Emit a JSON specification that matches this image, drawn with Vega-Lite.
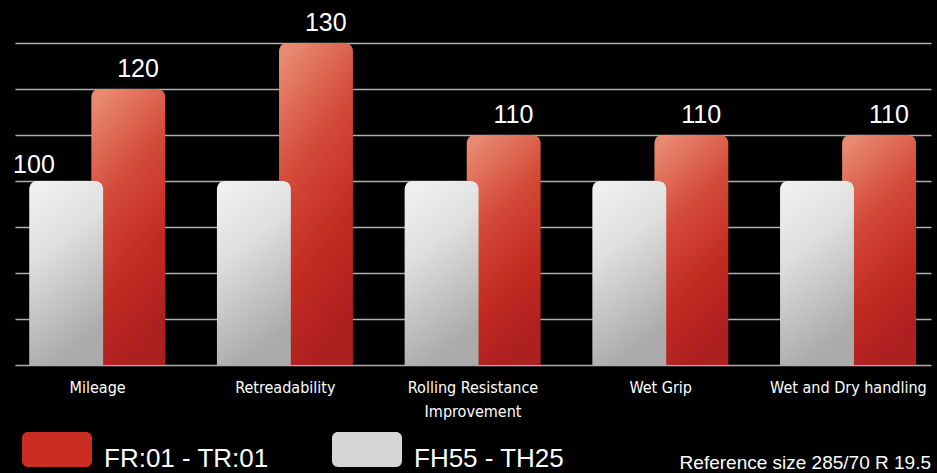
{
  "$schema": "https://vega.github.io/schema/vega-lite/v6.json",
  "width": 916,
  "height": 365,
  "autosize": "none",
  "padding": {"left": 15, "top": 0, "right": 6, "bottom": 108},
  "background": "#000000",
  "config": {"view": {"stroke": null}, "font": "Liberation Sans"},
  "title": {
    "text": "Reference size 285/70 R 19.5",
    "orient": "bottom",
    "anchor": "end",
    "fontSize": 19,
    "fontWeight": "normal",
    "color": "#ffffff",
    "font": "Liberation Sans",
    "offset": -18
  },
  "data": {
    "values": [
      {"category": "Mileage", "tyre": "FR:01 - TR:01", "value": 120},
      {"category": "Retreadability", "tyre": "FR:01 - TR:01", "value": 130},
      {"category": "Rolling Resistance Improvement", "tyre": "FR:01 - TR:01", "value": 110},
      {"category": "Wet Grip", "tyre": "FR:01 - TR:01", "value": 110},
      {"category": "Wet and Dry handling", "tyre": "FR:01 - TR:01", "value": 110},
      {"category": "Mileage", "tyre": "FH55 - TH25", "value": 100},
      {"category": "Retreadability", "tyre": "FH55 - TH25", "value": 100},
      {"category": "Rolling Resistance Improvement", "tyre": "FH55 - TH25", "value": 100},
      {"category": "Wet Grip", "tyre": "FH55 - TH25", "value": 100},
      {"category": "Wet and Dry handling", "tyre": "FH55 - TH25", "value": 100}
    ]
  },
  "encoding": {
    "x": {
      "field": "category",
      "type": "nominal",
      "sort": ["Mileage", "Retreadability", "Rolling Resistance Improvement", "Wet Grip", "Wet and Dry handling"],
      "scale": {"paddingInner": 0.12, "paddingOuter": 0},
      "axis": {
        "title": null,
        "labelAngle": 0,
        "domain": false,
        "ticks": false,
        "labelColor": "#ffffff",
        "labelFont": "'DejaVu Sans Condensed', 'Liberation Sans', sans-serif",
        "labelFontSize": 16,
        "labelPadding": 14,
        "labelLineHeight": 24,
        "labelLimit": 300,
        "labelExpr": "datum.label == 'Rolling Resistance Improvement' ? ['Rolling Resistance', 'Improvement'] : datum.label"
      }
    },
    "xOffset": {
      "field": "tyre",
      "type": "nominal",
      "sort": ["FH55 - TH25", "FR:01 - TR:01"],
      "scale": {"paddingInner": 0, "paddingOuter": 0.33, "align": 0.73}
    },
    "y": {
      "field": "value",
      "type": "quantitative",
      "scale": {"domain": [60, 139.35], "zero": false, "nice": false},
      "axis": {
        "title": null,
        "grid": true,
        "values": [60, 70, 80, 90, 100, 110, 120, 130],
        "labels": false,
        "ticks": false,
        "domain": false,
        "gridColor": "#b0b0b0",
        "gridWidth": 1.5,
        "gridOpacity": 1
      }
    }
  },
  "layer": [
    {
      "mark": {
        "type": "bar",
        "opacity": 0,
        "width": {"band": 1.19}
      },
      "encoding": {
        "y2": {"datum": 60},
        "color": {
          "field": "tyre",
          "type": "nominal",
          "scale": {
            "domain": ["FR:01 - TR:01", "FH55 - TH25"],
            "range": ["#cc2d22", "#d6d6d6"]
          },
          "legend": {
            "orient": "none",
            "legendX": 7,
            "legendY": 424,
            "direction": "horizontal",
            "title": null,
            "symbolType": "M-0.83,-0.77 H0.83 A0.17,0.17 0 0 1 1,-0.6 V0.06 A0.17,0.17 0 0 1 0.83,0.23 H-0.83 A0.17,0.17 0 0 1 -1,0.06 V-0.6 A0.17,0.17 0 0 1 -0.83,-0.77 Z",
            "symbolSize": 4900,
            "symbolStrokeWidth": 0,
            "symbolOpacity": 1,
            "labelFontSize": 26,
            "labelColor": "#ffffff",
            "labelFont": "Liberation Sans",
            "labelOffset": 12,
            "labelLimit": 400,
            "columnPadding": 63,
            "padding": 0
          }
        }
      }
    },
    {
      "mark": {
        "type": "bar",
        "cornerRadiusTopLeft": 8,
        "cornerRadiusTopRight": 8,
        "width": {"band": 1.19}
      },
      "encoding": {
        "y2": {"datum": 60},
        "color": {
          "condition": {
            "test": "datum.tyre == 'FR:01 - TR:01'",
            "value": {"gradient": "linear", "x1": 0.2, "y1": 0, "x2": 0.5, "y2": 1, "stops": [
              {"offset": 0, "color": "#e88a72"},
              {"offset": 0.35, "color": "#d44c3a"},
              {"offset": 0.7, "color": "#c22a21"},
              {"offset": 1, "color": "#ac2020"}
            ]}
          },
          "value": {"gradient": "linear", "x1": 0, "y1": 0, "x2": 0.3, "y2": 1, "stops": [
            {"offset": 0, "color": "#f2f2f2"},
            {"offset": 0.4, "color": "#e0e0e0"},
            {"offset": 1, "color": "#ababab"}
          ]}
        }
      }
    },
    {
      "transform": [{"filter": "datum.tyre == 'FR:01 - TR:01'"}],
      "mark": {"type": "text", "baseline": "alphabetic", "dy": -12, "fontSize": 25, "color": "#ffffff", "font": "Liberation Sans"},
      "encoding": {"text": {"field": "value", "type": "quantitative"}}
    },
    {
      "transform": [{"filter": "datum.tyre == 'FH55 - TH25' && datum.category == 'Mileage'"}],
      "mark": {"type": "text", "baseline": "alphabetic", "dy": -8, "dx": -42, "fontSize": 25, "color": "#ffffff", "font": "Liberation Sans"},
      "encoding": {"text": {"field": "value", "type": "quantitative"}}
    }
  ]
}
